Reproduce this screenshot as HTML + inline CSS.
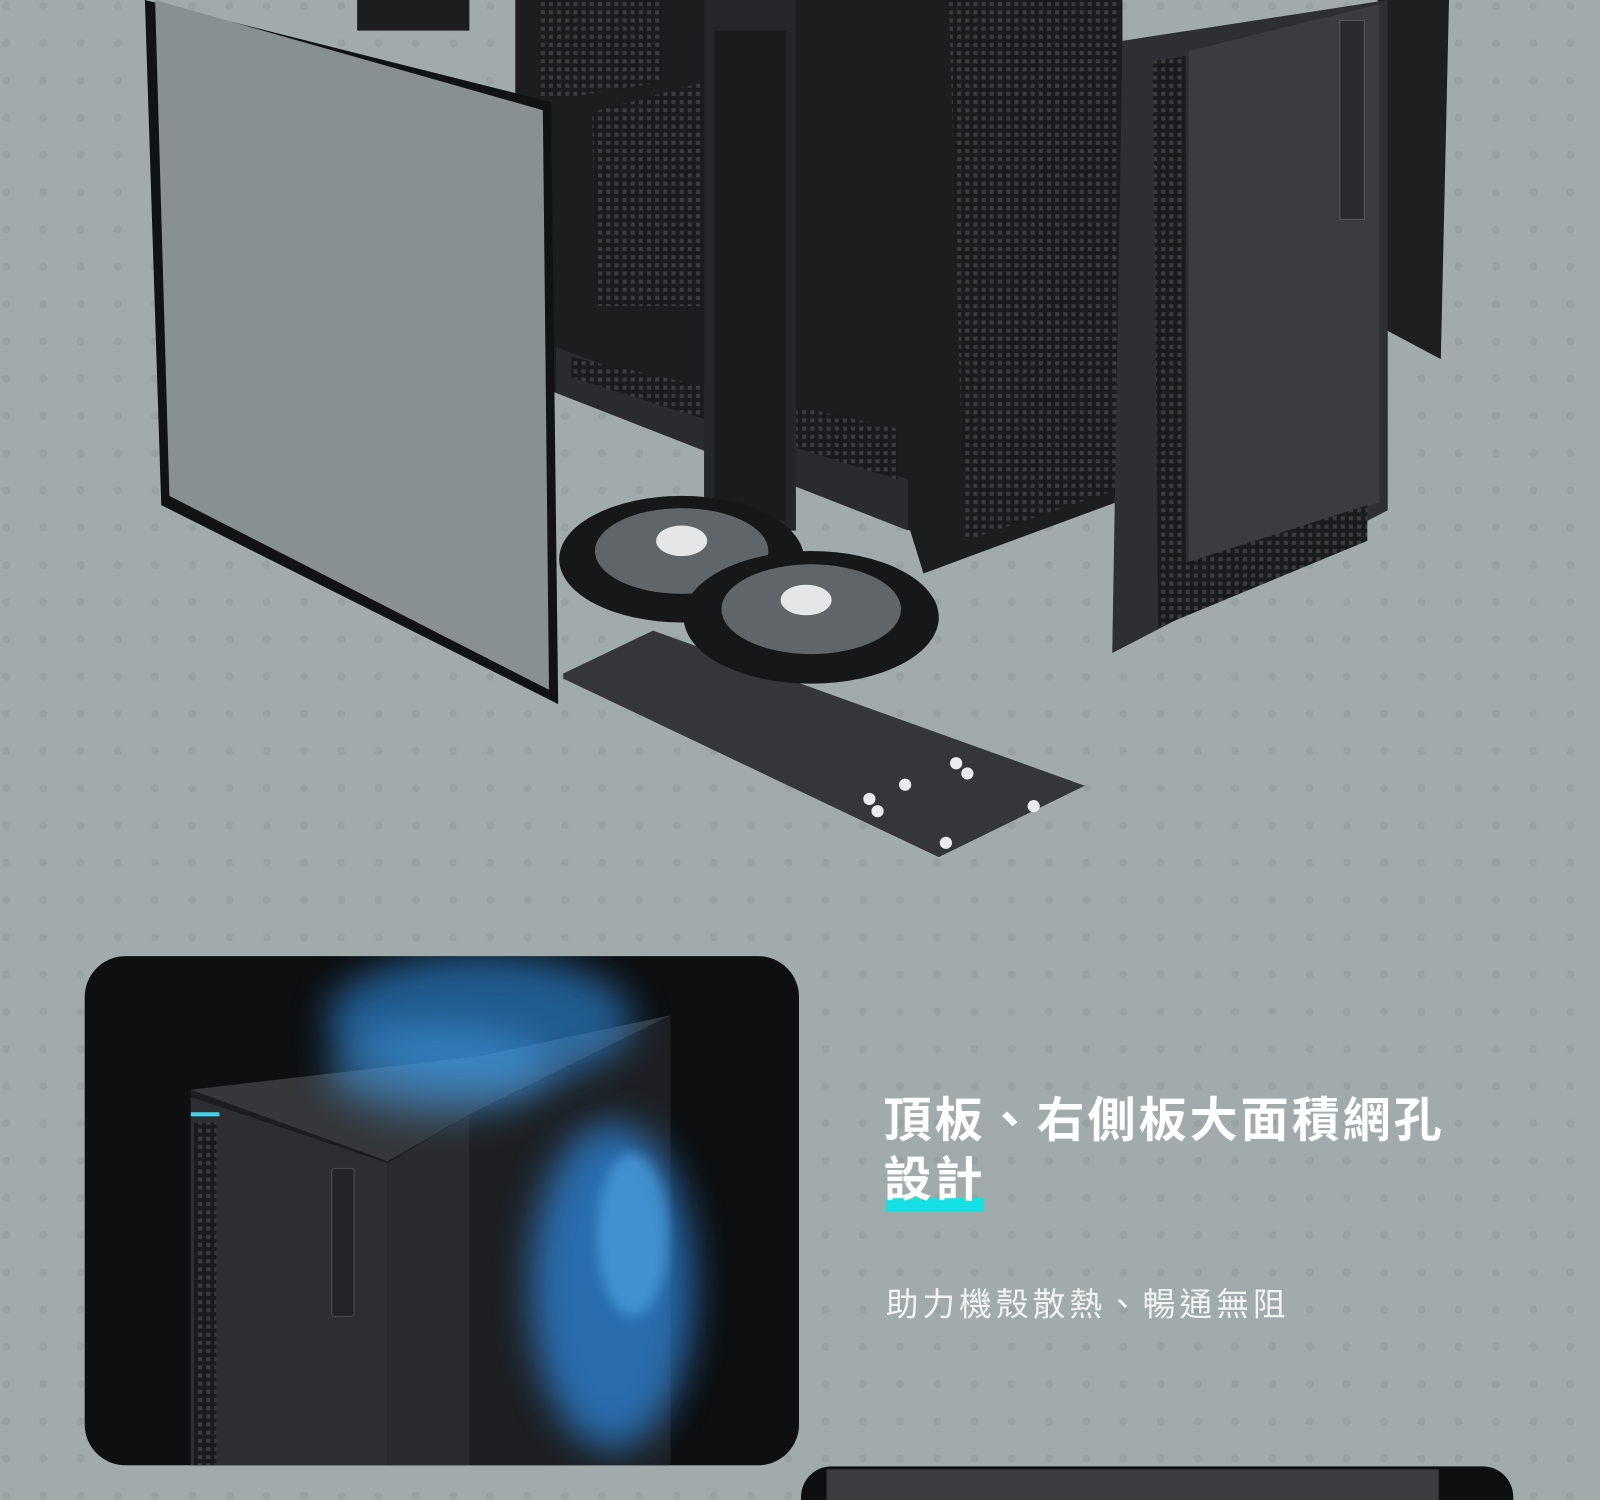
<!DOCTYPE html>
<html><head><meta charset="utf-8"><style>
html,body{margin:0;padding:0;background:#a2abab;}
svg{display:block}
</style></head><body>
<svg width="1600" height="1500" viewBox="0 0 1568 1470" xmlns="http://www.w3.org/2000/svg">
<defs>
<pattern id="dots" x="-6" y="-6" width="36.5" height="36.5" patternUnits="userSpaceOnUse">
<circle cx="12" cy="12" r="4" fill="#98a2a2"/>
</pattern>
<filter id="blur" x="-50%" y="-50%" width="200%" height="200%"><feGaussianBlur stdDeviation="18"/></filter>
<filter id="blur2" x="-50%" y="-50%" width="200%" height="200%"><feGaussianBlur stdDeviation="6"/></filter>
<pattern id="mesh" width="8" height="8" patternUnits="userSpaceOnUse"><rect width="8" height="8" fill="#1a1b1d"/><rect x="2" y="2" width="4" height="4" fill="#3a3c3f"/></pattern>
<clipPath id="card"><rect x="83" y="937" width="700" height="499" rx="40"/></clipPath>
</defs>
<rect width="1568" height="1470" fill="#a2abab"/>
<rect width="1568" height="1470" fill="url(#dots)"/>

<polygon points="1350,0 1420,0 1412,352 1352,320" fill="#1e1f21"/>
<polygon points="505,0 1100,0 1100,490 905,562 892,520 545,385 505,370" fill="#1c1d1f"/>
<polygon points="930,0 1095,0 1095,480 945,530" fill="url(#mesh)"/>
<polygon points="530,0 650,0 650,80 530,100" fill="url(#mesh)"/>
<polygon points="580,110 690,80 690,300 585,300" fill="url(#mesh)"/>
<polygon points="545,340 890,470 890,520 545,385" fill="#2a2b2e"/>
<polygon points="560,350 880,420 880,470 560,370" fill="url(#mesh)"/>
<rect x="690" y="0" width="90" height="520" fill="#252629"/>
<rect x="700" y="30" width="70" height="480" fill="#1a1b1d"/>
<rect x="350" y="0" width="110" height="30" fill="#1c1d1f"/>
<polygon points="142,0 540,100 547,690 158,495" fill="#111213"/>
<polygon points="152,0 532,108 538,676 166,486" fill="#899092"/>
<polygon points="1100,40 1360,0 1360,500 1090,640" fill="#2e2f32"/>
<polygon points="1165,50 1352,4 1352,492 1165,560" fill="#3b3c3f"/>
<polygon points="1130,60 1162,55 1162,560 1135,610" fill="url(#mesh)"/>
<polygon points="1135,560 1340,495 1340,530 1135,615" fill="url(#mesh)"/>
<rect x="1313" y="20" width="24" height="195" fill="#2a2b2e" stroke="#55575a"/>
<polygon points="552,660 640,618 1063,770 920,840 552,665" fill="#34363a"/>
<g fill="#e8ecec"><circle cx="937" cy="748" r="6"/><circle cx="887" cy="769" r="6"/><circle cx="948" cy="758" r="6"/><circle cx="852" cy="783" r="6"/><circle cx="860" cy="795" r="6"/><circle cx="1013" cy="790" r="6"/><circle cx="927" cy="826" r="6"/></g>
<ellipse cx="668" cy="548" rx="120" ry="62" fill="#161719"/>
<ellipse cx="668" cy="540" rx="85" ry="42" fill="#5f6568"/>
<ellipse cx="668" cy="530" rx="25" ry="15" fill="#e4e6e7"/>
<ellipse cx="795" cy="605" rx="125" ry="65" fill="#161719"/>
<ellipse cx="795" cy="597" rx="88" ry="44" fill="#5f6568"/>
<ellipse cx="790" cy="588" rx="25" ry="15" fill="#e4e6e7"/>

<rect x="83" y="937" width="700" height="499" rx="40" fill="#0e0f10"/>
<g clip-path="url(#card)">
<polygon points="187,1068 470,1035 657,995 657,1436 187,1436" fill="#1c1d1f"/>
<polygon points="187,1068 470,1035 657,995 460,1092 380,1138" fill="#35373a"/>
<polygon points="187,1075 380,1140 380,1436 187,1436" fill="#2d2e31"/>
<polygon points="380,1140 460,1092 460,1436 380,1436" fill="#2a2b2e"/>
<polygon points="460,1092 657,995 657,1436 460,1436" fill="#1e1f22"/>
<rect x="190" y="1100" width="22" height="336" fill="url(#mesh)"/>
<rect x="187" y="1090" width="28" height="4" fill="#3fd3e6"/>
<rect x="325" y="1145" width="22" height="145" rx="3" fill="#232427" stroke="#4a4c50"/>
<ellipse cx="470" cy="1000" rx="150" ry="65" fill="#2f8fe6" opacity="0.6" filter="url(#blur)"/>
<ellipse cx="430" cy="1050" rx="110" ry="45" fill="#4aa6f0" opacity="0.45" filter="url(#blur)"/>
<ellipse cx="600" cy="1260" rx="80" ry="160" fill="#2e8ee8" opacity="0.7" filter="url(#blur)"/>
<ellipse cx="620" cy="1210" rx="35" ry="80" fill="#5ab4f4" opacity="0.5" filter="url(#blur2)"/>
</g>
<rect x="785" y="1437" width="698" height="80" rx="30" fill="#0e0f10"/>
<rect x="810" y="1440" width="600" height="30" fill="#3a3c3f"/>

<g font-family="Liberation Sans, Noto Sans CJK TC, sans-serif" fill="#ffffff">
<text x="866" y="1114" font-size="47" font-weight="700" letter-spacing="3">頂板、右側板大面積網孔</text>
<rect x="868" y="1174" width="96" height="13" fill="#14e0e6"/>
<text x="866" y="1172" font-size="47" font-weight="700" letter-spacing="3">設計</text>
<text x="868" y="1289" font-size="32" fill="#f2f4f4" letter-spacing="4">助力機殼散熱、暢通無阻</text>
</g>
</svg>
</body></html>
